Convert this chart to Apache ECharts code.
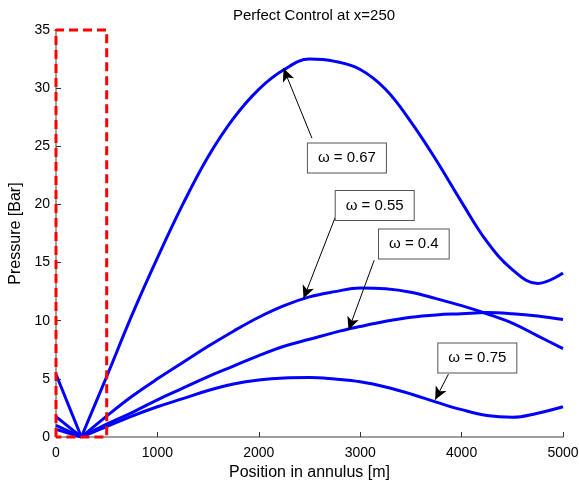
<!DOCTYPE html>
<html>
<head>
<meta charset="utf-8">
<script src="https://cdn.jsdelivr.net/npm/echarts@6/dist/echarts.min.js"></script>
<style>html,body{margin:0;padding:0;background:#fff}#c{width:579px;height:480px}</style>
</head>
<body>
<div id="c"></div>
<script>
// ---- data ----
const xPos = [0, 250, 500, 750, 1000, 1250, 1500, 1750, 2000, 2250, 2500, 2750, 3000, 3250, 3500, 3750, 4000, 4250, 4500, 4750, 5000];
const p067 = [5.4, 0, 5.2, 10.5, 15.4, 20.0, 24.1, 27.4, 29.9, 31.6, 32.5, 32.3, 31.6, 29.9, 27.1, 23.8, 20.2, 16.8, 14.4, 13.2, 14.1];
const p055 = [1.75, 0, 1.8, 3.5, 5.0, 6.4, 7.8, 9.1, 10.3, 11.3, 12.05, 12.5, 12.82, 12.75, 12.45, 11.9, 11.3, 10.6, 9.8, 8.7, 7.6];
const p040 = [1.0, 0, 1.1, 2.1, 3.2, 4.2, 5.2, 6.1, 7.0, 7.8, 8.4, 9.0, 9.5, 9.95, 10.3, 10.5, 10.6, 10.7, 10.6, 10.4, 10.1];
const p075 = [0.66, 0, 0.9, 1.8, 2.6, 3.3, 4.0, 4.55, 4.9, 5.08, 5.12, 4.98, 4.75, 4.3, 3.7, 3.0, 2.35, 1.85, 1.7, 2.05, 2.6];
const seriesNames = ['ω = 0.67', 'ω = 0.55', 'ω = 0.4', 'ω = 0.75'];
const seriesValues = [p067, p055, p040, p075];
// annotations in data coordinates: arrow tip, arrow tail, text-box centre
const annTip = [[2244, 31.7], [2441, 11.9], [2885, 9.2], [3739, 3.2]];
const annTail = [[2524, 25.7], [2754, 18.9], [3138, 15.2], [3870, 5.4]];
const annBox = [[2869, 24.0], [3143, 19.9], [3529, 16.6], [4155, 6.8]];
// highlighted region (x 0..500, full y range)
const boxX = [0, 0, 500, 500, 0];
const boxY = [0, 35, 35, 0, 0];
const xTicks = [0, 1000, 2000, 3000, 4000, 5000];
const yTicks = [0, 5, 10, 15, 20, 25, 30, 35];

const FONT = '"Liberation Sans", Arial, Helvetica, sans-serif';
const chart = echarts.init(document.getElementById('c'), null, {renderer: 'canvas'});

function pairs(xs, ys) { return xs.map((x, i) => [x, ys[i]]); }

const series = [];
seriesValues.forEach((vals, k) => {
  const pts = pairs(xPos, vals);
  series.push({
    type: 'line', data: pts.slice(0, 2), showSymbol: false, silent: true,
    lineStyle: {color: '#0000ff', width: 3}, z: 3
  });
  series.push({
    type: 'line', data: pts.slice(1), smooth: 0.4, showSymbol: false, silent: true,
    lineStyle: {color: '#0000ff', width: 3}, z: 3,
    markLine: {
      silent: true, animation: false,
      symbol: ['none', 'arrow'], symbolSize: [9, 13],
      lineStyle: {color: '#000', width: 1, type: 'solid'},
      label: {show: false},
      data: [[{coord: annTail[k]}, {coord: annTip[k]}]]
    },
    markPoint: {
      silent: true, animation: false,
      symbol: 'circle', symbolSize: 1,
      itemStyle: {color: 'rgba(0,0,0,0)'},
      label: {
        show: true, position: 'inside', formatter: seriesNames[k],
        color: '#000', fontFamily: FONT, fontSize: 15,
        backgroundColor: '#fff', borderColor: '#555', borderWidth: 1,
        padding: [7, 10, 7, 10]
      },
      data: [{coord: annBox[k]}]
    }
  });
});
series.push({
  type: 'line', data: pairs(boxX, boxY), showSymbol: false, silent: true, clip: false,
  lineStyle: {color: '#ff0000', width: 3, type: [9, 5]}, z: 5
});

chart.setOption({
  animation: false,
  backgroundColor: '#fff',
  title: {
    text: 'Perfect Control at x=250', left: 309, top: 3, textAlign: 'center',
    textStyle: {fontFamily: FONT, fontSize: 15, fontWeight: 'normal', color: '#000'}
  },
  grid: {left: 56, right: 16, top: 30, bottom: 43, containLabel: false, outerBoundsMode: 'none'},
  xAxis: {
    type: 'value', min: xTicks[0], max: xTicks[xTicks.length - 1], interval: xTicks[1] - xTicks[0],
    name: 'Position in annulus [m]', nameLocation: 'middle', nameGap: 24,
    nameTextStyle: {fontFamily: FONT, fontSize: 16, color: '#000'},
    axisLine: {show: true, onZero: false, lineStyle: {color: '#808080', width: 1.5}},
    axisTick: {show: true, inside: true, length: 5, lineStyle: {color: '#333'}},
    axisLabel: {fontFamily: FONT, fontSize: 14, color: '#000', margin: 9, formatter: v => String(v)},
    splitLine: {show: false}
  },
  yAxis: {
    type: 'value', min: yTicks[0], max: yTicks[yTicks.length - 1], interval: yTicks[1] - yTicks[0],
    name: 'Pressure [Bar]', nameLocation: 'middle', nameGap: 24, nameRotate: 90,
    nameTextStyle: {fontFamily: FONT, fontSize: 16, color: '#000'},
    axisLine: {show: true, onZero: false, lineStyle: {color: '#808080', width: 1.5}},
    axisTick: {show: true, inside: true, length: 5, lineStyle: {color: '#333'}},
    axisLabel: {fontFamily: FONT, fontSize: 14, color: '#000', margin: 6},
    splitLine: {show: false}
  },
  series: series
});
</script>
</body>
</html>
